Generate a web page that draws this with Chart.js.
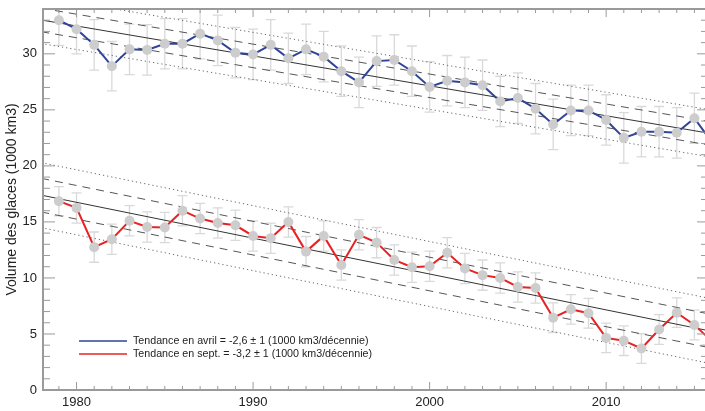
<!DOCTYPE html>
<html>
<head>
<meta charset="utf-8">
<script src="https://cdn.jsdelivr.net/npm/chart.js@4.4.1/dist/chart.umd.min.js"></script>
<style>
  html, body { margin: 0; padding: 0; background: #fff; }
</style>
</head>
<body>
<canvas id="volume" width="705" height="411"></canvas>
<script>
"use strict";

// years and ice volume (1000 km3)
const years = [1979, 1980, 1981, 1982, 1983, 1984, 1985, 1986, 1987, 1988,
               1989, 1990, 1991, 1992, 1993, 1994, 1995, 1996, 1997, 1998,
               1999, 2000, 2001, 2002, 2003, 2004, 2005, 2006, 2007, 2008,
               2009, 2010, 2011, 2012, 2013, 2014, 2015, 2016];
const aprilVolume = [33.0, 32.2, 30.8, 28.9, 30.4, 30.35, 30.9, 30.9, 31.8, 31.2,
                     30.1, 29.95, 30.8, 29.6, 30.4, 29.75, 28.45, 27.45, 29.35, 29.45,
                     28.45, 27.05, 27.6, 27.45, 27.2, 25.75, 26.05, 25.1, 23.7, 24.95,
                     24.95, 24.1, 22.5, 23.05, 23.05, 22.95, 24.25, 22.1];
const aprilError = [2.25, 2.2, 2.25, 2.2, 2.25, 2.25, 2.25, 2.25, 2.25, 2.25,
                    2.25, 2.25, 2.25, 2.25, 2.25, 2.25, 2.25, 2.25, 2.25, 2.25,
                    2.25, 2.25, 2.25, 2.25, 2.25, 2.25, 2.25, 2.25, 2.25, 2.25,
                    2.25, 2.25, 2.25, 2.25, 2.25, 2.25, 2.25, 2.25];
const septVolume = [16.85, 16.25, 12.75, 13.45, 15.1, 14.55, 14.5, 16.0, 15.3, 14.9,
                    14.7, 13.75, 13.55, 15.0, 12.35, 13.75, 11.15, 13.85, 13.15, 11.6,
                    10.95, 11.05, 12.25, 10.85, 10.25, 10.0, 9.2, 9.1, 6.45, 7.2,
                    6.85, 4.65, 4.4, 3.7, 5.4, 6.9, 5.8, 4.35];
const septError = [1.3, 1.35, 1.35, 1.35, 1.35, 1.35, 1.35, 1.35, 1.35, 1.35,
                   1.35, 1.35, 1.35, 1.35, 1.35, 1.35, 1.35, 1.35, 1.35, 1.35,
                   1.35, 1.35, 1.35, 1.35, 1.35, 1.35, 1.35, 1.35, 1.32, 1.32,
                   1.32, 1.32, 1.32, 1.32, 1.32, 1.32, 1.32, 1.32];

// trend lines: end points, plus half widths of dashed and dotted bands
const trendYears = [1978, 2016];
const aprilTrend = [33.02, 22.87];
const septTrend = [17.39, 5.23];
const aprilBand = [1.05, 2.1];
const septBand = [1.5, 2.9];

const xTicks = [1980, 1990, 2000, 2010];
const yTicks = [0, 5, 10, 15, 20, 25, 30];
const yTitle = "Volume des glaces (1000 km3)";
const legendLabels = ["Tendance en avril = -2,6 \u00b1 1 (1000 km3/d\u00e9cennie)",
                      "Tendance en sept. = -3,2 \u00b1 1 (1000 km3/d\u00e9cennie)"];

const BLUE = "#2f4499";
const RED = "#e82222";
const AXIS = "#9a9a9a";

Chart.defaults.font.family = "'Liberation Sans', Arial, sans-serif";

const points = (xs, ys, shift = 0) => xs.map((x, i) => ({ x: x, y: ys[i] + shift }));

const trendSet = (ys, shift, dash, color) => ({
    data: points(trendYears, ys, shift),
    borderColor: color,
    borderWidth: 1,
    borderDash: dash,
    pointRadius: 0,
    fill: false,
    order: 2
});

const bands = (ys, band) => [
    trendSet(ys, 0, [], "#333"),
    trendSet(ys, band[0], [8, 6], "#555"),
    trendSet(ys, -band[0], [8, 6], "#555"),
    trendSet(ys, band[1], [1.2, 3], "#666"),
    trendSet(ys, -band[1], [1.2, 3], "#666")
];

const series = (ys, color) => ({
    data: points(years, ys),
    borderColor: color,
    borderWidth: 2,
    pointRadius: 5,
    pointHoverRadius: 5,
    pointBackgroundColor: "#cdcdcd",
    pointBorderWidth: 0,
    fill: false,
    order: 0
});

// vertical error bars behind the lines
const errorBars = {
    id: "errorBars",
    beforeDatasetsDraw(chart) {
        const { ctx, chartArea, scales: { x, y } } = chart;
        ctx.save();
        ctx.beginPath();
        ctx.rect(chartArea.left, chartArea.top, chartArea.right - chartArea.left, chartArea.bottom - chartArea.top);
        ctx.clip();
        ctx.strokeStyle = "#d9d9d9";
        ctx.lineWidth = 1.3;
        [[aprilVolume, aprilError], [septVolume, septError]].forEach(([vals, errs]) => {
            years.forEach((yr, i) => {
                const px = x.getPixelForValue(yr);
                const top = y.getPixelForValue(vals[i] + errs[i]);
                const bot = y.getPixelForValue(vals[i] - errs[i]);
                ctx.beginPath();
                ctx.moveTo(px, top); ctx.lineTo(px, bot);
                ctx.moveTo(px - 5, top); ctx.lineTo(px + 5, top);
                ctx.moveTo(px - 5, bot); ctx.lineTo(px + 5, bot);
                ctx.stroke();
            });
        });
        ctx.restore();
    }
};

// box around the plot with ticks pointing inward
const frame = {
    id: "frame",
    afterDatasetsDraw(chart) {
        const { ctx, chartArea: a, scales: { x, y } } = chart;
        ctx.save();
        ctx.strokeStyle = AXIS;
        ctx.lineWidth = 1;
        ctx.beginPath();
        for (let yr = Math.ceil(x.min); yr <= x.max; yr++) {
            const px = x.getPixelForValue(yr);
            const len = yr % 10 === 0 ? 8 : 4;
            ctx.moveTo(px, a.bottom); ctx.lineTo(px, a.bottom - len);
            ctx.moveTo(px, a.top); ctx.lineTo(px, a.top + len);
        }
        for (let v = Math.ceil(y.min); v <= y.max; v++) {
            const py = y.getPixelForValue(v);
            const major = v % 5 === 0;
            ctx.moveTo(a.left, py); ctx.lineTo(a.left + (major ? 12 : 7), py);
            ctx.moveTo(a.right, py); ctx.lineTo(a.right - (major ? 8 : 4), py);
        }
        ctx.stroke();
        ctx.lineWidth = 2;
        ctx.strokeRect(a.left, a.top, a.right - a.left + 2, a.bottom - a.top);
        ctx.restore();
    }
};

const legendBox = {
    id: "legendBox",
    afterDraw(chart) {
        const { ctx, chartArea: a } = chart;
        ctx.save();
        ctx.font = "10.7px 'Liberation Sans', Arial, sans-serif";
        ctx.fillStyle = "#222";
        ctx.textBaseline = "middle";
        [BLUE, RED].forEach((color, i) => {
            const ly = a.bottom - 49 + i * 13;
            ctx.strokeStyle = color;
            ctx.lineWidth = 1.5;
            ctx.beginPath();
            ctx.moveTo(a.left + 36, ly); ctx.lineTo(a.left + 84, ly);
            ctx.stroke();
            ctx.fillText(legendLabels[i], a.left + 90, ly + 0.5);
        });
        ctx.restore();
    }
};

new Chart(document.getElementById("volume"), {
    type: "line",
    data: {
        datasets: [
            series(aprilVolume, BLUE),
            series(septVolume, RED),
            ...bands(aprilTrend, aprilBand),
            ...bands(septTrend, septBand)
        ]
    },
    options: {
        responsive: false,
        animation: false,
        layout: { autoPadding: false, padding: { top: 9, right: 0, left: 0, bottom: 0 } },
        plugins: { legend: { display: false }, tooltip: { enabled: false } },
        scales: {
            x: {
                type: "linear",
                min: 1978.1,
                max: 2015.6,
                grid: { display: false, drawTicks: false },
                border: { display: false },
                afterBuildTicks: s => { s.ticks = xTicks.map(v => ({ value: v })); },
                afterFit: s => { s.height = 21; s.paddingLeft = 0; s.paddingRight = 0; },
                ticks: { padding: 5, color: "#222", font: { size: 13 }, maxRotation: 0, autoSkip: false,
                         callback: v => String(v) }
            },
            y: {
                type: "linear",
                min: 0,
                max: 34,
                grid: { display: false, drawTicks: false },
                border: { display: false },
                afterBuildTicks: s => { s.ticks = yTicks.map(v => ({ value: v })); },
                afterFit: s => { s.width = 43; s.paddingTop = 0; s.paddingBottom = 0; },
                ticks: { padding: 6, color: "#222", font: { size: 13 }, callback: v => String(v) },
                title: { display: true, text: yTitle, color: "#222", font: { size: 14 }, padding: { top: 4, bottom: 0 } }
            }
        }
    },
    plugins: [errorBars, frame, legendBox]
});
</script>
</body>
</html>
